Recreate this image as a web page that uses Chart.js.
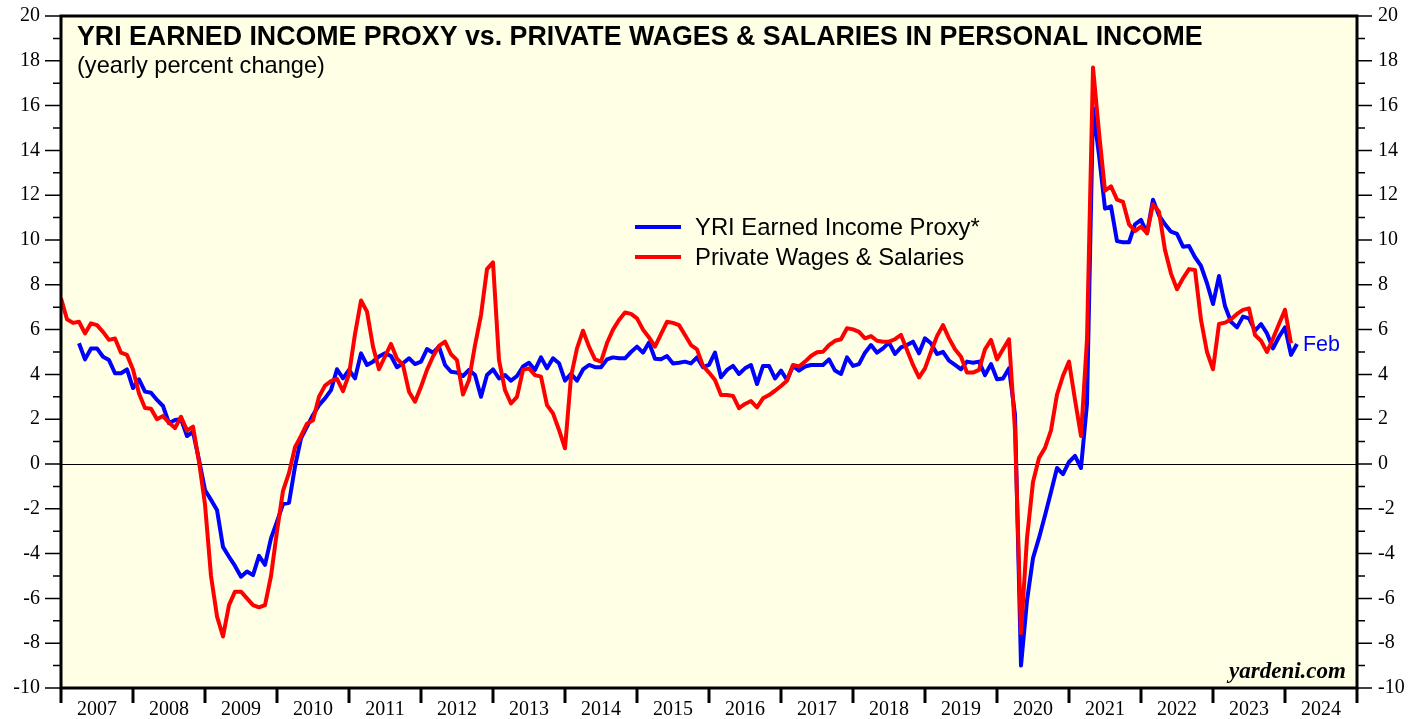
<!DOCTYPE html>
<html><head><meta charset="utf-8">
<script src="https://cdn.jsdelivr.net/npm/chart.js@4"></script>
<style>html,body{margin:0;padding:0;background:#fff;}canvas{display:block}</style>
</head><body>
<canvas id="c" width="1422" height="719"></canvas>
<script>
// ---- data ----
const yearLabels = ['2007','2008','2009','2010','2011','2012','2013','2014','2015','2016','2017','2018','2019','2020','2021','2022','2023','2024'];
const seriesNames = ['YRI Earned Income Proxy*', 'Private Wages & Salaries'];
const lastLabel = 'Feb';
const titleText = 'YRI EARNED INCOME PROXY vs. PRIVATE WAGES & SALARIES IN PERSONAL INCOME';
const subtitleText = '(yearly percent change)';
const sourceText = 'yardeni.com';

// month positions counted from the start of 2007
const redStart = 0;
const redValues = [
 7.4, 6.46, 6.3, 6.35, 5.83, 6.28, 6.2, 5.9, 5.54, 5.6, 4.97, 4.87,
 4.22, 3.15, 2.5, 2.47, 2.0, 2.14, 1.85, 1.6, 2.11, 1.49, 1.67, 0.1,
 -1.8, -5.0, -6.8, -7.7, -6.3, -5.7, -5.7, -6.0, -6.3, -6.4, -6.3, -5.0,
 -3.0, -1.2, -0.4, 0.75, 1.25, 1.8, 1.95, 3.0, 3.5, 3.7, 3.8, 3.25,
 4.0, 5.8, 7.3, 6.8, 5.24, 4.23, 4.8, 5.36, 4.7, 4.42, 3.23, 2.78,
 3.45, 4.2, 4.8, 5.27, 5.46, 4.9, 4.64, 3.1, 3.75, 5.3, 6.65, 8.7,
 9.0, 4.64, 3.3, 2.7, 3.0, 4.2, 4.27, 3.97, 3.9, 2.63, 2.26, 1.52,
 0.7, 3.9, 5.16, 5.95, 5.24, 4.67, 4.57, 5.4, 6.0, 6.43, 6.76, 6.7,
 6.5, 6.0, 5.65, 5.24, 5.8, 6.35, 6.3, 6.2, 5.76, 5.31, 5.12, 4.38,
 4.08, 3.75, 3.08, 3.08, 3.04, 2.49, 2.68, 2.81, 2.53, 2.93, 3.08, 3.27,
 3.48, 3.72, 4.42, 4.35, 4.57, 4.82, 4.99, 5.01, 5.31, 5.5, 5.57, 6.06,
 6.01, 5.9, 5.61, 5.71, 5.5, 5.46, 5.46, 5.57, 5.76, 5.09, 4.42, 3.87,
 4.27, 5.01, 5.71, 6.2, 5.61, 5.12, 4.79, 4.08, 4.08, 4.2, 5.12, 5.54,
 4.67, 5.12, 5.57, 1.5, -7.55, -3.3, -0.8, 0.27, 0.72, 1.5, 3.1, 3.94,
 4.57, 2.87, 1.25, 5.56, 17.7, 14.8, 12.2, 12.4, 11.8, 11.7, 10.7, 10.4,
 10.6, 10.3, 11.6, 11.26, 9.55, 8.5, 7.8, 8.29, 8.7, 8.66, 6.43, 5.0,
 4.23, 6.25, 6.31, 6.46, 6.7, 6.88, 6.95, 5.76, 5.5, 5.0, 5.6, 6.25,
 6.88, 5.39
];
const blueStart = 3;
const blueValues = [
 5.39, 4.67, 5.16, 5.16, 4.79, 4.64, 4.05, 4.05, 4.22,
 3.39, 3.78, 3.23, 3.18, 2.86, 2.59, 1.82, 1.96, 2.0, 1.25, 1.44, 0.18,
 -1.16, -1.6, -2.05, -3.7, -4.14, -4.55, -5.03, -4.8, -4.96, -4.1, -4.5, -3.32,
 -2.57, -1.79, -1.73, -0.12, 1.15, 1.67, 2.19, 2.63, 2.93, 3.3, 4.23, 3.82,
 4.2, 3.82, 4.94, 4.42, 4.57, 4.8, 4.94, 4.82, 4.32, 4.5, 4.72, 4.46,
 4.57, 5.13, 4.97, 5.24, 4.42, 4.12, 4.08, 3.93, 4.2, 3.97, 3.0, 3.97,
 4.22, 3.82, 3.97, 3.72, 3.93, 4.35, 4.52, 4.2, 4.76, 4.27, 4.72, 4.5,
 3.72, 4.02, 3.72, 4.22, 4.42, 4.32, 4.32, 4.67, 4.76, 4.72, 4.72, 5.0,
 5.24, 4.97, 5.42, 4.7, 4.68, 4.82, 4.49, 4.52, 4.57, 4.49, 4.76, 4.32,
 4.42, 4.97, 3.87, 4.2, 4.38, 4.02, 4.27, 4.42, 3.57, 4.38, 4.38, 3.82,
 4.17, 3.75, 4.38, 4.17, 4.35, 4.42, 4.42, 4.42, 4.67, 4.17, 4.02, 4.76,
 4.38, 4.46, 4.97, 5.31, 4.97, 5.16, 5.42, 4.91, 5.21, 5.31, 5.46, 4.94,
 5.61, 5.39, 4.91, 5.01, 4.61, 4.42, 4.23, 4.57, 4.52, 4.57, 3.97, 4.46,
 3.78, 3.82, 4.27, 2.2, -9.0, -6.1, -4.2, -3.3, -2.3, -1.25, -0.18, -0.45,
 0.09, 0.36, -0.18, 2.7, 15.9, 13.8, 11.4, 11.5, 9.95, 9.9, 9.9, 10.7,
 10.9, 10.3, 11.8, 11.1, 10.7, 10.37, 10.27, 9.7, 9.73, 9.23, 8.84, 8.07,
 7.14, 8.39, 7.05, 6.35, 6.1, 6.58, 6.5, 5.95, 6.25, 5.83, 5.16, 5.68,
 6.1, 4.87, 5.36
];

const BLUE = '#0000FF', RED = '#FF0000', PLOT_BG = '#FFFFE6';
const toPoints = (start, vals) => vals.map((v, i) => ({x: start + i, y: v}));

function fitSize(ctx, text, weight, family, target) {
  ctx.font = weight + ' 100px ' + family;
  return 100 * target / ctx.measureText(text).width;
}

const decor = {
  id: 'decor',
  beforeDraw(chart) {
    const {ctx, chartArea: a} = chart;
    ctx.save();
    ctx.fillStyle = '#fff';
    ctx.fillRect(0, 0, chart.width, chart.height);
    ctx.fillStyle = PLOT_BG;
    ctx.fillRect(a.left, a.top, a.right - a.left, a.bottom - a.top);
    ctx.restore();
  },
  beforeDatasetsDraw(chart) {
    const {ctx, chartArea: a, scales} = chart;
    const y0 = Math.round(scales.y.getPixelForValue(0)) + 0.5;
    ctx.save();
    ctx.strokeStyle = '#000'; ctx.lineWidth = 1;
    ctx.beginPath(); ctx.moveTo(a.left, y0); ctx.lineTo(a.right, y0); ctx.stroke();
    ctx.restore();
  },
  afterDatasetsDraw(chart) {
    const {ctx, chartArea: a, scales} = chart;
    ctx.save();
    // border
    ctx.strokeStyle = '#000';
    ctx.lineWidth = 3;
    ctx.strokeRect(a.left, a.top, a.right - a.left, a.bottom - a.top);
    // y tick marks (major every 2, minor every 1)
    ctx.lineWidth = 1.5;
    for (let v = scales.y.min; v <= scales.y.max; v++) {
      const py = scales.y.getPixelForValue(v);
      const major = v % 2 === 0;
      ctx.beginPath();
      ctx.moveTo(a.left - (major ? 16 : 8), py); ctx.lineTo(a.left, py);
      ctx.moveTo(a.right, py); ctx.lineTo(a.right + (major ? 15 : 8), py);
      ctx.stroke();
    }
    // year boundary ticks
    ctx.lineWidth = 3;
    for (let k = 0; k <= yearLabels.length; k++) {
      const px = scales.x.getPixelForValue(12 * k);
      ctx.beginPath(); ctx.moveTo(px, a.bottom); ctx.lineTo(px, a.bottom + 15); ctx.stroke();
    }
    // title + subtitle
    ctx.fillStyle = '#000';
    ctx.textBaseline = 'alphabetic';
    ctx.textAlign = 'left';
    let s = fitSize(ctx, titleText, 'bold', '"Liberation Sans", Arial, sans-serif', 1126);
    ctx.font = 'bold ' + s + 'px "Liberation Sans", Arial, sans-serif';
    ctx.fillText(titleText, 77, 45);
    s = fitSize(ctx, subtitleText, 'normal', '"Liberation Sans", Arial, sans-serif', 248);
    ctx.font = 'normal ' + s + 'px "Liberation Sans", Arial, sans-serif';
    ctx.fillText(subtitleText, 77, 73);
    // legend
    const legend = [{label: chart.data.datasets[1].label, color: chart.data.datasets[1].borderColor, y: 227},
                    {label: chart.data.datasets[0].label, color: chart.data.datasets[0].borderColor, y: 257}];
    s = fitSize(ctx, legend[0].label, 'normal', '"Liberation Sans", Arial, sans-serif', 285);
    ctx.font = 'normal ' + s + 'px "Liberation Sans", Arial, sans-serif';
    ctx.textBaseline = 'middle';
    legend.forEach(it => {
      ctx.strokeStyle = it.color; ctx.lineWidth = 4;
      ctx.beginPath(); ctx.moveTo(635, it.y); ctx.lineTo(681, it.y); ctx.stroke();
      ctx.fillStyle = '#000';
      ctx.fillText(it.label, 695, it.y + 1);
    });
    // last-point label
    const meta = chart.getDatasetMeta(1);
    const last = meta.data[meta.data.length - 1];
    s = fitSize(ctx, lastLabel, 'normal', '"Liberation Sans", Arial, sans-serif', 37);
    ctx.font = 'normal ' + s + 'px "Liberation Sans", Arial, sans-serif';
    ctx.fillStyle = BLUE;
    ctx.fillText(lastLabel, last.x + 6, last.y + 1);
    // source
    ctx.textAlign = 'right';
    ctx.textBaseline = 'alphabetic';
    s = fitSize(ctx, sourceText, 'italic bold', '"Liberation Serif", "Times New Roman", serif', 117);
    ctx.font = 'italic bold ' + s + 'px "Liberation Serif", "Times New Roman", serif';
    ctx.fillStyle = '#000';
    ctx.fillText(sourceText, 1346, 678);
    ctx.restore();
  }
};

const tickFont = {family: '"Liberation Serif", "Times New Roman", serif', size: 20};
const noPad = sc => { sc.paddingTop = 0; sc.paddingBottom = 0; sc.paddingLeft = 0; sc.paddingRight = 0; };

new Chart(document.getElementById('c'), {
  type: 'line',
  data: {
    datasets: [
      {label: seriesNames[1], data: toPoints(redStart, redValues), borderColor: RED, borderWidth: 4,
       pointRadius: 0, tension: 0, borderJoinStyle: 'round', order: 0, yAxisID: 'y'},
      {label: seriesNames[0], data: toPoints(blueStart, blueValues), borderColor: BLUE, borderWidth: 4,
       pointRadius: 0, tension: 0, borderJoinStyle: 'round', order: 1, yAxisID: 'y'}
    ]
  },
  options: {
    responsive: false,
    devicePixelRatio: 1,
    animation: false,
    layout: {padding: {top: 16, left: 0, right: 0, bottom: 0}},
    plugins: {legend: {display: false}, tooltip: {enabled: false}, title: {display: false}},
    scales: {
      x: {
        type: 'linear', min: 0, max: 12 * yearLabels.length,
        afterBuildTicks(sc) { sc.ticks = yearLabels.map((_, k) => ({value: 12 * k + 6})); },
        ticks: {callback: (v, i) => yearLabels[i], autoSkip: false, maxRotation: 0, minRotation: 0,
                font: tickFont, color: '#000', padding: 10},
        grid: {display: false, drawTicks: false}, border: {display: false},
        afterFit(sc) { sc.height = 31; noPad(sc); }
      },
      y: {
        position: 'left', min: -10, max: 20,
        ticks: {stepSize: 2, font: tickFont, color: '#000', padding: 21},
        grid: {display: false, drawTicks: false}, border: {display: false},
        afterFit(sc) { sc.width = 61; noPad(sc); }
      },
      y2: {
        position: 'right', min: -10, max: 20,
        ticks: {stepSize: 2, font: tickFont, color: '#000', padding: 21},
        grid: {display: false, drawTicks: false}, border: {display: false},
        afterFit(sc) { sc.width = 65; noPad(sc); }
      }
    }
  },
  plugins: [decor]
});
</script>
</body></html>
